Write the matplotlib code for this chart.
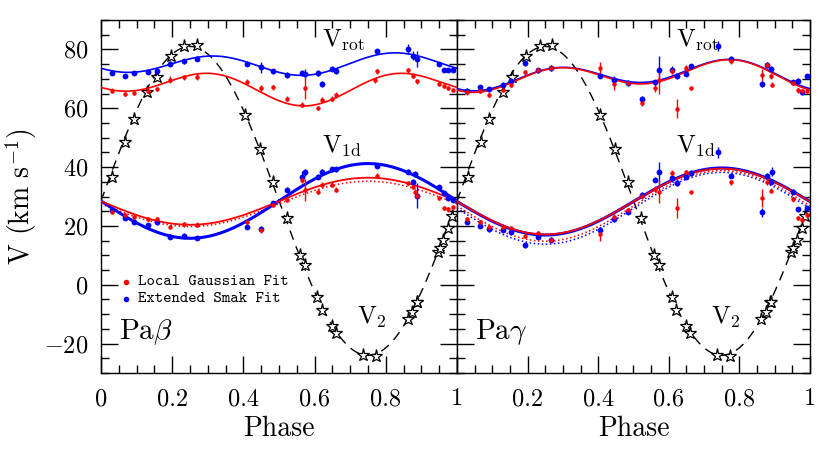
import numpy as np
import matplotlib
matplotlib.use('Agg')
import matplotlib.pyplot as plt
from matplotlib.ticker import MultipleLocator, FuncFormatter

plt.rcParams['font.family'] = 'cmr10'
plt.rcParams['mathtext.fontset'] = 'cm'
plt.rcParams['axes.formatter.use_mathtext'] = True

# Secondary star (V2) radial velocities, same phases for both lines
v2_phase = [0.030, 0.067, 0.092, 0.130, 0.156, 0.196, 0.234, 0.269, 0.404, 0.447,
            0.484, 0.522, 0.559, 0.573, 0.608, 0.620, 0.648, 0.660, 0.737, 0.772,
            0.861, 0.875, 0.887, 0.889, 0.947, 0.952, 0.962, 0.976, 0.987]
v2_vel = [36.5, 48.5, 56.5, 65.4, 70.5, 77.9, 81.1, 81.4, 57.8, 46.2,
          34.9, 22.7, 10.2, 6.8, -4.3, -8.5, -13.9, -16.4, -23.9, -24.1,
          -11.7, -9.1, -5.7, -6.0, 11.3, 12.6, 15.3, 19.3, 23.5]
v2_fit = [28.5, 52.5]  # gamma, K2

# Pa beta measurements
pb_phase = [0.030, 0.067, 0.094, 0.131, 0.156, 0.194, 0.234, 0.269, 0.409, 0.449,
            0.484, 0.522, 0.564, 0.573, 0.610, 0.622, 0.648, 0.660, 0.770, 0.774,
            0.861, 0.877, 0.883, 0.887, 0.950, 0.963, 0.975, 0.989]
pb_rot_red = [66.0, 64.9, 65.2, 65.8, 66.6, 69.7, 70.5, 70.5, 69.0, 66.9,
              67.1, 63.3, 61.2, 66.9, 60.1, 62.9, 63.3, 64.6, 69.5, 72.6,
              72.9, 71.1, np.nan, 69.2, 68.4, 67.5, 66.9, 66.1]
pb_rot_blue = [72.0, 71.1, 72.0, 72.3, 72.6, 75.2, 75.9, 76.9, 75.1, 73.9,
               72.6, 71.4, 72.0, 71.8, 72.0, 68.3, 73.4, 72.6, np.nan, 79.4,
               80.2, 77.9, np.nan, 76.8, 75.1, 73.1, 72.9, 72.9]
pb_1d_red = [24.9, 23.8, 23.0, 22.3, 22.3, 19.6, 20.6, 20.4, 21.2, 18.5,
             27.2, 28.9, 35.7, 32.3, 31.7, 34.0, 34.0, 32.3, np.nan, 37.1,
             34.6, 33.4, 31.7, 30.3, 29.5, 26.1, 25.7, 26.4]
pb_1d_blue = [25.5, 22.7, 21.5, 20.2, 21.5, 16.4, 16.7, 15.9, 19.6, 19.0,
              27.8, 32.3, 36.8, 38.2, 36.8, 38.5, 39.3, 39.3, np.nan, 40.5,
              38.5, 35.1, 37.7, 30.3, 33.2, 31.2, 29.5, 28.9]
pb_rot_red_err = [0.8, 0.6, 0.6, 0.7, 0.7, 1.2, 0.8, 1.0, 0.8, 0.9,
                  0.9, 0.8, 0.8, 3.7, 0.7, 0.8, 0.9, 1.0, 0.8, 0.9,
                  0.8, 0.8, 0.8, 0.9, 0.7, 0.7, 0.8, 0.7]
pb_rot_blue_err = [0.6, 0.6, 0.6, 0.8, 0.8, 0.9, 0.8, 1.0, 0.7, 1.8,
                   0.9, 1.0, 0.9, 1.5, 1.0, 1.0, 0.9, 0.9, 0.8, 0.9,
                   1.7, 1.5, 0.8, 2.8, 0.7, 0.7, 0.6, 0.6]
pb_1d_red_err = [0.8, 0.7, 0.7, 0.7, 0.8, 0.8, 0.8, 0.9, 0.8, 0.8,
                 0.8, 0.8, 1.0, 3.7, 0.9, 0.9, 0.8, 0.9, 0.8, 0.9,
                 0.8, 0.8, 0.8, 0.9, 0.8, 0.8, 0.8, 0.8]
pb_1d_blue_err = [0.8, 0.7, 0.7, 0.8, 1.3, 0.8, 0.8, 0.8, 0.8, 0.9,
                  0.8, 0.9, 1.8, 1.2, 0.9, 1.0, 0.9, 0.9, 0.8, 0.9,
                  0.8, 0.8, 0.9, 4.2, 0.8, 0.8, 0.8, 0.8]

# Pa gamma measurements
pg_phase = [0.027, 0.065, 0.092, 0.129, 0.152, 0.193, 0.230, 0.265, 0.405, 0.446,
            0.484, 0.523, 0.561, 0.572, 0.610, 0.622, 0.649, 0.662, 0.739, 0.775,
            0.865, 0.877, 0.890, 0.893, 0.951, 0.967, 0.978, 0.991]
pg_rot_red = [65.4, 66.0, 64.6, 66.3, 68.0, 72.2, 72.9, 73.7, 73.7, 68.4,
              68.6, 61.8, 66.9, 69.5, 72.8, 59.8, 73.7, 66.9, np.nan, 75.9,
              71.4, 74.8, 71.0, 68.0, 68.6, 66.1, 65.8, 66.0]
pg_rot_blue = [66.0, 67.1, 66.6, 68.0, 69.4, 75.4, 72.9, 73.7, 71.1, 69.5,
               68.6, 63.3, 68.8, 73.1, 73.1, 71.0, 71.8, 74.3, 81.1, 76.8,
               68.3, 74.8, 73.4, np.nan, 68.8, 69.4, 65.4, 71.0]
pg_1d_red = [22.3, 21.2, 19.6, 19.8, 19.3, 16.7, 17.6, 15.3, 17.3, 23.0,
             25.3, 30.1, 32.5, 31.7, 38.0, 26.1, 38.2, 31.7, np.nan, 34.8,
             29.5, 34.8, 32.0, np.nan, 29.1, 22.7, 22.1, 23.8]
pg_1d_blue = [21.5, 20.1, 18.9, 18.7, 18.1, 13.6, 16.4, 15.3, 18.7, 22.3,
              24.9, 30.6, 35.7, 38.2, 36.3, 34.6, 36.8, 38.0, 45.0, 37.1,
              24.6, 37.1, 35.1, 38.5, 31.7, 25.7, np.nan, 26.1]
pg_rot_red_err = [0.8, 0.7, 0.8, 0.7, 0.8, 0.9, 0.8, 0.9, 2.0, 2.3,
                  0.8, 0.9, 1.5, 4.5, 1.0, 3.2, 0.9, 0.6, 0.8, 0.9,
                  2.0, 0.9, 0.9, 0.8, 0.8, 0.8, 0.8, 0.8]
pg_rot_blue_err = [0.8, 0.7, 0.7, 0.8, 0.8, 0.9, 0.8, 0.9, 0.9, 1.3,
                   0.9, 0.9, 0.9, 4.5, 1.3, 1.0, 0.9, 0.9, 1.7, 0.9,
                   1.0, 1.0, 0.9, 0.8, 0.8, 0.8, 0.8, 0.8]
pg_1d_red_err = [0.8, 0.7, 0.8, 0.7, 0.8, 0.9, 0.8, 0.9, 2.5, 0.9,
                 0.8, 0.9, 1.0, 4.0, 0.9, 3.5, 0.9, 0.6, 0.8, 0.9,
                 3.0, 0.9, 0.9, 0.8, 0.8, 0.8, 0.8, 0.8]
pg_1d_blue_err = [0.8, 0.7, 0.8, 0.8, 0.9, 1.0, 0.8, 0.9, 1.0, 0.9,
                  0.9, 0.9, 0.9, 3.5, 1.5, 0.9, 0.9, 0.9, 1.8, 0.9,
                  1.5, 0.9, 1.0, 1.5, 0.8, 0.8, 0.8, 0.8]

# Fit parameters. V_rot: mean, a1, p1, a2, p2 ; V_1d: gamma, K1
pb_rot_red_fit = [67.5, 2.5, 0.07, 4.2, 0.32]
pb_rot_blue_fit = [75.0, 0.74, 0.94, 3.3, 0.32]
pg_rot_red_fit = [71.0, 1.98, 0.656, 4.1, 0.285]
pg_rot_blue_fit = [71.3, 1.98, 0.656, 3.9, 0.285]
pb_1d_fits = {'red_solid': [28.4, 8.0], 'red_dot': [27.5, 7.7], 'blue_solid': [28.5, 12.7]}
pg_1d_fits = {'red_solid': [28.3, 11.2], 'blue_solid': [28.3, 11.4],
              'red_dot': [26.8, 12.0], 'blue_dot': [26.0, 12.2]}


def rot_curve(phi, p):
    return (p[0] + p[1] * np.cos(2 * np.pi * (phi - p[2]))
            + p[3] * np.cos(4 * np.pi * (phi - p[4])))


def orbit_curve(phi, p, sign=-1):
    return p[0] + sign * p[1] * np.sin(2 * np.pi * phi)


def draw_points(ax, phase, vals, errs, color, ms):
    ax.errorbar(phase, vals, yerr=errs, fmt='o', color=color, ms=ms, mew=0,
                elinewidth=1.0, capsize=2.2, capthick=1.0, zorder=4)


def draw_panel(ax, phase, rot_r, rot_b, d_r, d_b, errs, rot_fits, d_fits):
    phi = np.linspace(0, 1, 400)
    # V2 orbit, dashed, with open stars
    ax.plot(phi, orbit_curve(phi, v2_fit, sign=1), color='black', lw=1.0,
            dashes=(7, 5), zorder=2)
    ax.plot(v2_phase, v2_vel, ls='none', marker='*', ms=9.5, mfc='white',
            mec='black', mew=0.9, zorder=3)
    # fitted curves
    ax.plot(phi, rot_curve(phi, rot_fits[1]), color='blue', lw=1.2, zorder=3)
    ax.plot(phi, rot_curve(phi, rot_fits[0]), color='red', lw=1.2, zorder=3)
    if 'blue_dot' in d_fits:
        ax.plot(phi, orbit_curve(phi, d_fits['blue_dot']), color='blue', lw=1.1, ls=':', zorder=3)
    ax.plot(phi, orbit_curve(phi, d_fits['red_dot']), color='red', lw=1.1, ls=':', zorder=3)
    ax.plot(phi, orbit_curve(phi, d_fits['blue_solid']), color='blue', lw=2.2, zorder=3)
    ax.plot(phi, orbit_curve(phi, d_fits['red_solid']), color='red', lw=1.3, zorder=3)
    # measurements
    draw_points(ax, phase, rot_b, errs[1], 'blue', 4.2)
    draw_points(ax, phase, d_b, errs[3], 'blue', 4.2)
    draw_points(ax, phase, rot_r, errs[0], 'red', 3.2)
    draw_points(ax, phase, d_r, errs[2], 'red', 3.2)


def style_axis(ax):
    ax.set_xlim(0, 1)
    ax.set_ylim(-30, 90)
    ax.xaxis.set_major_locator(MultipleLocator(0.2))
    ax.xaxis.set_minor_locator(MultipleLocator(0.05))
    ax.yaxis.set_major_locator(MultipleLocator(20))
    ax.yaxis.set_minor_locator(MultipleLocator(5))
    ax.tick_params(which='both', direction='in', top=True, right=True, width=1.0)
    ax.tick_params(which='major', length=12, labelsize=17.5, pad=9)
    ax.tick_params(axis='x', which='major', pad=11)
    ax.tick_params(which='minor', length=6)
    for s in ax.spines.values():
        s.set_linewidth(1.0)
    ax.set_xlabel('Phase', fontsize=20, labelpad=4)


def phase_label(v, pos):
    return '%g' % round(v, 2)


def phase_label_right(v, pos):
    # the shared 0 is only labelled on the left panel
    if abs(v) < 1e-6:
        return ''
    return '%g' % round(v, 2)


fig = plt.figure(figsize=(8.3, 4.54), dpi=100)
ax1 = fig.add_axes([0.1217, 0.1784, 0.4289, 0.7775])
ax2 = fig.add_axes([0.5506, 0.1784, 0.4253, 0.7775])

draw_panel(ax1, pb_phase, pb_rot_red, pb_rot_blue, pb_1d_red, pb_1d_blue,
           [pb_rot_red_err, pb_rot_blue_err, pb_1d_red_err, pb_1d_blue_err],
           [pb_rot_red_fit, pb_rot_blue_fit], pb_1d_fits)
draw_panel(ax2, pg_phase, pg_rot_red, pg_rot_blue, pg_1d_red, pg_1d_blue,
           [pg_rot_red_err, pg_rot_blue_err, pg_1d_red_err, pg_1d_blue_err],
           [pg_rot_red_fit, pg_rot_blue_fit], pg_1d_fits)

for ax in (ax1, ax2):
    style_axis(ax)
    ax.text(0.62, 83, r'$\mathrm{V}_{\rm rot}$', fontsize=18, ha='left', va='center')
    ax.text(0.62, 47, r'$\mathrm{V}_{\rm 1d}$', fontsize=18, ha='left', va='center')
    ax.text(0.72, -11, r'$\mathrm{V}_{2}$', fontsize=18, ha='left', va='center')

ax1.xaxis.set_major_formatter(FuncFormatter(phase_label))
ax2.xaxis.set_major_formatter(FuncFormatter(phase_label_right))
ax1.yaxis.set_major_formatter(FuncFormatter(lambda v, pos: '$%g$' % v))
ax2.yaxis.set_major_formatter(FuncFormatter(lambda v, pos: ''))
ax1.set_ylabel(r'V (km s$^{-1}$)', fontsize=20, labelpad=4)

ax1.text(0.05, -16, r'Pa$\beta$', fontsize=21, ha='left', va='center')
ax2.text(0.05, -16, r'Pa$\gamma$', fontsize=21, ha='left', va='center')

# legend drawn as text with coloured dots
ax1.plot([0.07], [1.0], 'o', color='red', ms=4, mew=0)
ax1.plot([0.07], [-4.8], 'o', color='blue', ms=4, mew=0)
ax1.text(0.105, 1.0, 'Local Gaussian Fit', fontsize=11.5, family='cmtt10', va='center')
ax1.text(0.105, -4.8, 'Extended Smak Fit', fontsize=11.5, family='cmtt10', va='center')

fig.savefig('out.png', dpi=100)
